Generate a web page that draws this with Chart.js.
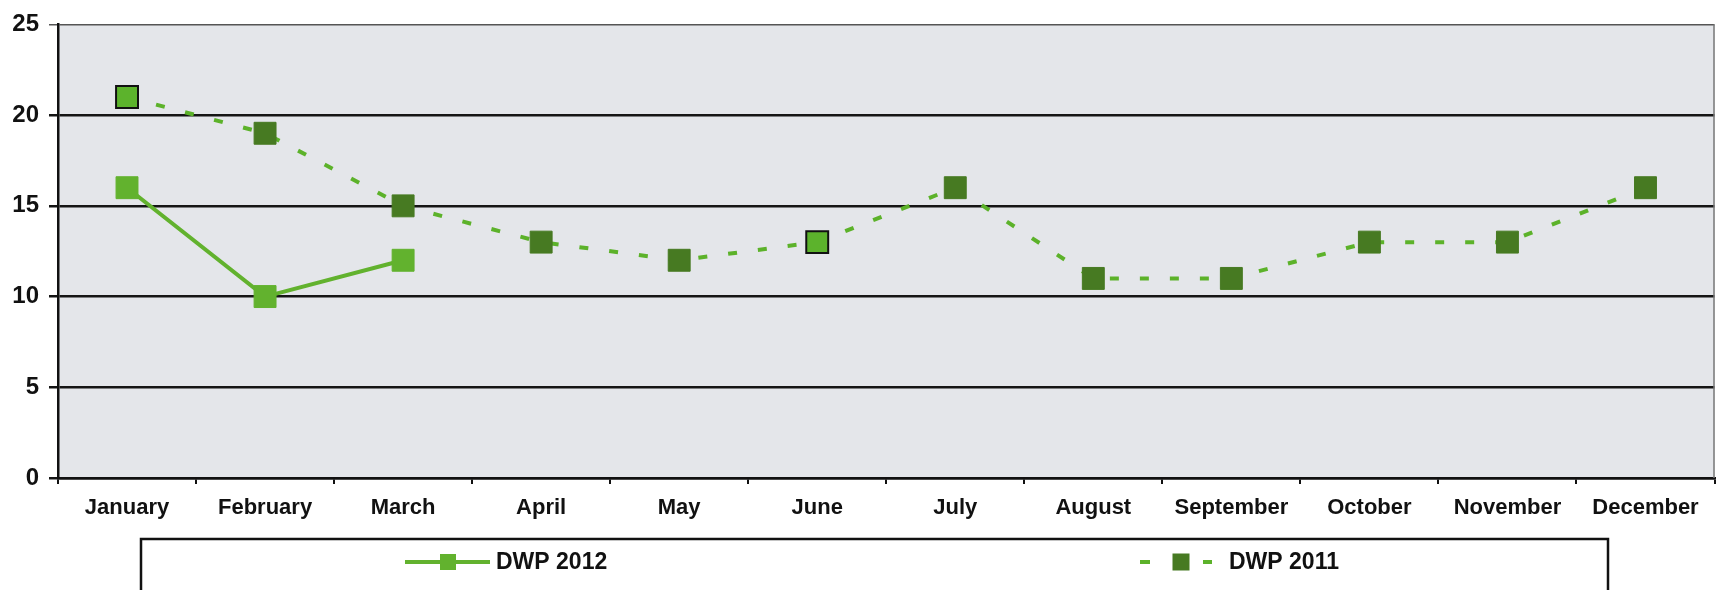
<!DOCTYPE html>
<html>
<head>
<meta charset="utf-8">
<script src="https://cdn.jsdelivr.net/npm/chart.js@4/dist/chart.umd.min.js"></script>
<style>
  html, body { margin: 0; padding: 0; background: #ffffff; }
  #wrap { width: 1732px; height: 590px; position: relative; }
</style>
</head>
<body>
<div id="wrap"><canvas id="c" width="1732" height="590"></canvas></div>
<script>
// ---- data ----
const months = ["January", "February", "March", "April", "May", "June", "July", "August", "September", "October", "November", "December"];
const dwp2012 = [16, 10, 12];
const dwp2011 = [21, 19, 15, 13, 12, 13, 16, 11, 11, 13, 13, 16];
const yTicks = [0, 5, 10, 15, 20, 25];
const seriesNames = ["DWP 2012", "DWP 2011"];

// ---- styles ----
const FONT = "'Liberation Sans', Arial, Helvetica, sans-serif";
const green2012 = "#62b22e";
const line2011 = "#5cb22a";
const dark2011 = "#477a22";
const bright2011 = "#5cb32c";
const pt2011Bg = dwp2011.map((v, i) => (i === 0 || i === 5) ? bright2011 : dark2011);
const pt2011Border = dwp2011.map((v, i) => (i === 0 || i === 5) ? "#111111" : dark2011);
const pt2011BorderW = dwp2011.map((v, i) => (i === 0 || i === 5) ? 2 : 1);

const bgPlugin = {
  id: "plotBg",
  beforeDraw(chart) {
    const { ctx, chartArea: a } = chart;
    ctx.save();
    ctx.fillStyle = "#e4e6ea";
    ctx.fillRect(a.left, a.top, a.right - a.left, a.bottom - a.top);
    ctx.restore();
  },
  afterDraw(chart) {
    const { ctx, chartArea: a } = chart;
    ctx.save();
    // right border of plot
    ctx.strokeStyle = "#777777";
    ctx.lineWidth = 1.5;
    ctx.beginPath();
    ctx.moveTo(a.right - 0.5, a.top);
    ctx.lineTo(a.right - 0.5, a.bottom);
    ctx.stroke();

    // legend box
    const bx = 141, by = 539, bw = 1608 - 141, bh = 70;
    ctx.fillStyle = "#ffffff";
    ctx.fillRect(bx, by, bw, bh);
    ctx.strokeStyle = "#111111";
    ctx.lineWidth = 2.5;
    ctx.strokeRect(bx, by, bw, bh);

    const ly = 562;
    const ds = chart.data.datasets;
    // item 1 : solid line
    ctx.strokeStyle = ds[0].borderColor;
    ctx.lineWidth = 4;
    ctx.setLineDash([]);
    ctx.beginPath();
    ctx.moveTo(405, ly);
    ctx.lineTo(490, ly);
    ctx.stroke();
    ctx.fillStyle = ds[0].pointBackgroundColor;
    ctx.fillRect(448 - 8, ly - 8, 16, 16);
    ctx.fillStyle = "#111111";
    ctx.font = "bold 23px " + FONT;
    ctx.textBaseline = "middle";
    ctx.textAlign = "left";
    ctx.fillText(ds[0].label, 496, ly + 1);

    // item 2 : dashed line
    ctx.strokeStyle = ds[1].borderColor;
    ctx.lineWidth = 4;
    ctx.beginPath();
    ctx.moveTo(1140, ly); ctx.lineTo(1150, ly);
    ctx.moveTo(1203, ly); ctx.lineTo(1212, ly);
    ctx.stroke();
    ctx.fillStyle = dark2011;
    ctx.fillRect(1181 - 8.5, ly - 8.5, 17, 17);
    ctx.fillStyle = "#111111";
    ctx.fillText(ds[1].label, 1229, ly + 1);
    ctx.restore();
  }
};

new Chart(document.getElementById("c"), {
  type: "line",
  data: {
    labels: months,
    datasets: [
      {
        label: seriesNames[0],
        data: dwp2012,
        borderColor: green2012,
        borderWidth: 4,
        pointStyle: "rect",
        pointRadius: 15.5,
        pointBackgroundColor: green2012,
        pointBorderColor: green2012,
        pointBorderWidth: 1,
        tension: 0,
        fill: false
      },
      {
        label: seriesNames[1],
        data: dwp2011,
        borderColor: line2011,
        borderWidth: 4,
        borderDash: [9, 21],
        pointStyle: "rect",
        pointRadius: 15.5,
        pointBackgroundColor: pt2011Bg,
        pointBorderColor: pt2011Border,
        pointBorderWidth: pt2011BorderW,
        tension: 0,
        fill: false
      }
    ]
  },
  options: {
    responsive: false,
    animation: false,
    events: [],
    layout: { padding: { top: 19, right: 2, bottom: 62, left: 0 } },
    plugins: {
      legend: { display: false },
      tooltip: { enabled: false },
      title: { display: false }
    },
    scales: {
      x: {
        offset: true,
        grid: {
          display: true,
          offset: true,
          drawOnChartArea: false,
          drawTicks: true,
          tickLength: 6,
          color: "#111111",
          lineWidth: 2
        },
        border: { display: true, color: "#111111", width: 2.5 },
        ticks: {
          color: "#111111",
          font: { family: FONT, size: 22, weight: "bold" },
          padding: 11,
          maxRotation: 0,
          autoSkip: false
        },
        afterFit(scale) { scale.height = 50; }
      },
      y: {
        min: 0,
        max: 25,
        afterBuildTicks(scale) { scale.ticks = yTicks.map(v => ({ value: v })); },
        grid: {
          color: (c) => (c.tick && c.tick.value === 25) ? "#555555" : "#151515",
          lineWidth: (c) => (c.tick && c.tick.value === 25) ? 1.5 : 2.5,
          drawTicks: true,
          tickLength: 9
        },
        border: { display: true, color: "#111111", width: 2.5 },
        ticks: {
          color: "#111111",
          font: { family: FONT, size: 24, weight: "bold" },
          padding: 10
        },
        afterFit(scale) { scale.width = 58; }
      }
    }
  },
  plugins: [bgPlugin]
});
</script>
</body>
</html>
